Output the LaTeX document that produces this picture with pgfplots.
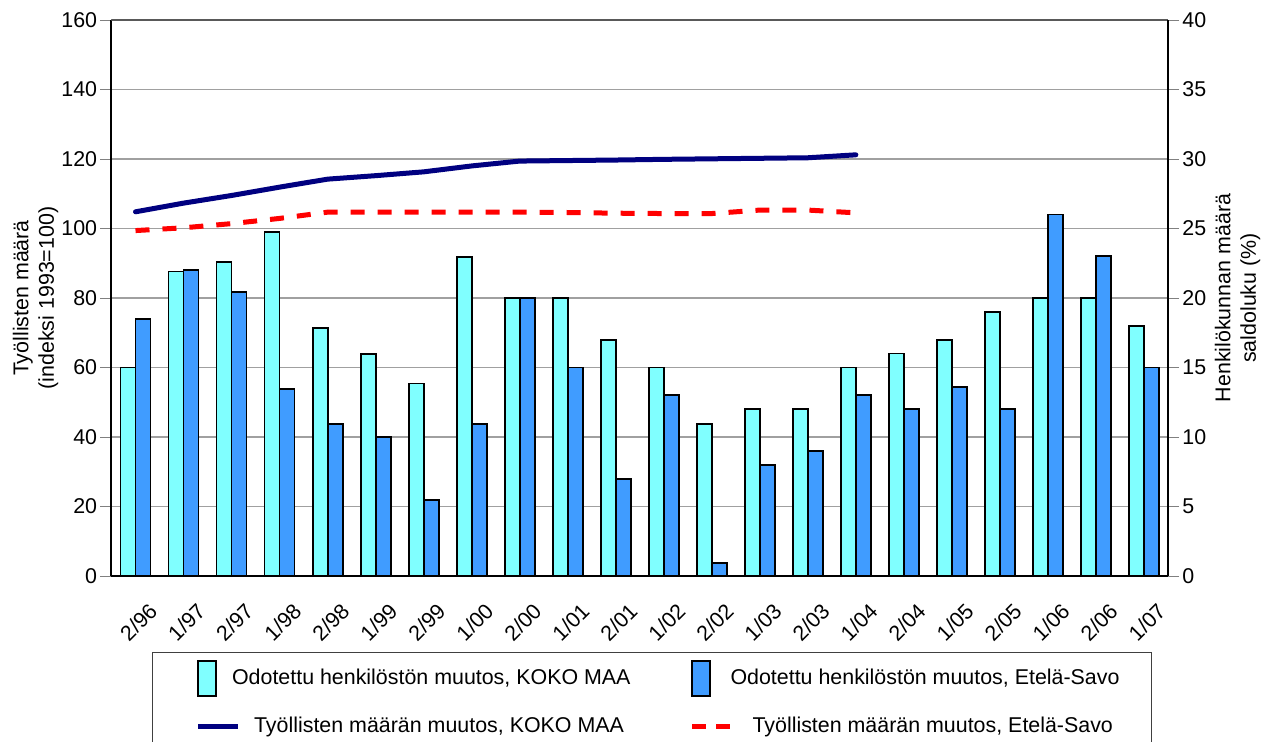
\documentclass[border=0pt]{standalone}
\usepackage{fontspec}
\setmainfont{Liberation Sans}
\usepackage{pgfplots}
\pgfplotsset{compat=1.18}
\definecolor{cyanbar}{RGB}{128,255,255}
\definecolor{bluebar}{RGB}{64,156,255}
\definecolor{navyline}{RGB}{0,0,128}
\definecolor{gridgray}{RGB}{160,160,160}
\pgfplotsset{
  barlegL/.style={legend image code/.code={\path (0pt,0pt); \draw[##1] (5.5pt,-8.75pt) rectangle (14.5pt,8.75pt);}},
  barleg/.style={legend image code/.code={\path (0pt,0pt) (10.5pt,0pt); \draw[##1] (0pt,-8.75pt) rectangle (9pt,8.75pt);}},
  linelegL/.style={legend image code/.code={\path (0pt,0pt); \draw[##1,overlay] (5.5pt,0pt) -- (25.5pt,0pt);}},
  lineleg/.style={legend image code/.code={\path (0pt,0pt) (10.5pt,0pt); \draw[##1,overlay] (0pt,0pt) -- (20pt,0pt);}},
  common/.style={
    at={(0,0)}, anchor=south west, scale only axis,
    width=528.25pt, height=278pt,
    xmin=-0.5, xmax=21.5,
    tick align=outside, major tick length=5.5pt,
    axis line style={-, line width=1pt, black},
    /pgf/number format/assume math mode=true,
    yticklabel style={inner xsep=1.5pt},
  },
}
\begin{document}
\fontsize{10.7}{12.8}\selectfont
\begin{tikzpicture}
\begin{axis}[common,
  ymin=0, ymax=160, ytick={0,20,...,160},
  axis x line*=bottom, axis y line*=left,
  xtick={0,...,21},
  xticklabels={2/96,1/97,2/97,1/98,2/98,1/99,2/99,1/00,2/00,1/01,2/01,1/02,2/02,1/03,2/03,1/04,2/04,1/05,2/05,1/06,2/06,1/07},
  xtick style={draw=none},
  xticklabel style={xshift=1.5pt, yshift=-17.5pt, rotate=45, anchor=center, inner sep=0pt},
  ymajorgrids, major grid style={gridgray, line width=0.6pt},
  ylabel={Työllisten määrä\\(indeksi 1993=100)},
  ylabel style={align=center, at={(axis description cs:-0.0719,0.5)}, anchor=center},
]
\addplot[navyline, line width=2.5pt, line join=round, line cap=round] coordinates {
  (0,104.8) (1,107.3) (2,109.5) (3,111.9) (4,114.2) (5,115.2) (6,116.3) (7,118.0)
  (8,119.4) (9,119.55) (10,119.7) (11,119.9) (12,120.05) (13,120.2) (14,120.35) (15,121.2)};
\addplot[red, line width=2.5pt, dash pattern=on 7pt off 6.5pt] coordinates {
  (0,99.4) (1,100.2) (2,101.4) (3,102.9) (4,104.7) (5,104.7) (6,104.7) (7,104.7)
  (8,104.7) (9,104.6) (10,104.4) (11,104.3) (12,104.3) (13,105.3) (14,105.3) (15,104.5)};
\draw[black!65, line width=1pt] (rel axis cs:0,1) -- (rel axis cs:1,1);
\end{axis}
\begin{axis}[common,
  ymin=0, ymax=40, ytick={0,5,...,40},
  axis y line*=right, axis x line=none,
  ybar, bar width=7.5pt,
  ylabel={Henkilökunnan määrä\\saldoluku (\%)},
  ylabel style={align=center, at={(axis description cs:1.0658,0.5)}, anchor=center},
  legend columns=2,
  legend cell align=left,
  legend style={at={(0.0383,-0.1367)}, anchor=north west, draw=black!75, line width=0.7pt,
    inner xsep=16pt, inner ysep=3.6pt, row sep=8.3pt,
    nodes={inner xsep=0pt},
    /tikz/every odd column/.append style={column sep=7.5pt},
    /tikz/every even column/.append style={column sep=29.5pt}},
]
\addplot[fill=cyanbar, draw=black, line width=0.9pt, bar shift=-3.75pt, barlegL] coordinates {
  (0,15) (1,21.9) (2,22.6) (3,24.75) (4,17.85) (5,15.95) (6,13.85) (7,22.95)
  (8,20) (9,20) (10,16.95) (11,15) (12,10.95) (13,12) (14,12) (15,15)
  (16,16) (17,17) (18,19) (19,20) (20,20) (21,18)};
\addplot[fill=bluebar, draw=black, line width=0.9pt, bar shift=3.75pt, barleg] coordinates {
  (0,18.5) (1,22) (2,20.45) (3,13.45) (4,10.95) (5,10) (6,5.45) (7,10.95)
  (8,20) (9,15) (10,7) (11,13) (12,0.95) (13,8) (14,9) (15,13)
  (16,12) (17,13.6) (18,12) (19,26) (20,23) (21,15)};
\addlegendimage{navyline, line width=2.5pt, linelegL}
\addlegendimage{red, line width=2.5pt, dash pattern=on 7pt off 5pt, lineleg}
\legend{Odotettu henkilöstön muutos{,} KOKO MAA, Odotettu henkilöstön muutos{,} Etelä-Savo,
  \hspace*{11pt}Työllisten määrän muutos{,} KOKO MAA, \hspace*{11pt}Työllisten määrän muutos{,} Etelä-Savo}
\end{axis}
\pgfresetboundingbox
\path (-55.75pt,-83pt) rectangle (580.25pt,288pt);
\end{tikzpicture}
\end{document}
